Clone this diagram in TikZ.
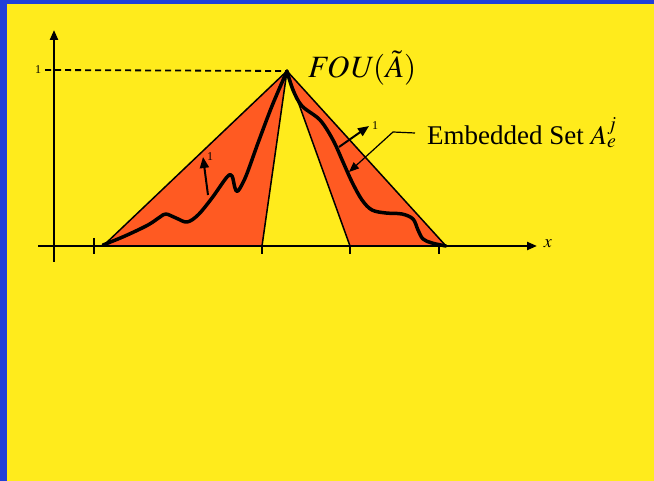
\documentclass[tikz,border=0pt]{standalone}
\usepackage{mathptmx}
\usepackage{fontspec}
\setmainfont{Liberation Serif}
\usetikzlibrary{arrows.meta,calc}
\definecolor{slideblue}{HTML}{2040D8}
\definecolor{slideyellow}{HTML}{FFEB1C}
\definecolor{fouorange}{HTML}{FF5A22}

\begin{document}
\begin{tikzpicture}[x=1pt, y=-1pt,
  axis/.style={line width=2.2pt, -{Triangle[length=10pt,width=8pt]}},
  edge/.style={line width=1.5pt, line join=round},
  tickmark/.style={line width=2pt},
  embed/.style={line width=3.5pt, line cap=round, line join=round},
  normal/.style={line width=2pt, -{Triangle[length=11pt,width=9pt]}},
  lead/.style={line width=1.2pt, -{Triangle[length=10pt,width=8pt]}},
  lbl/.style={inner sep=0pt, font=\fontsize{27}{30}\selectfont},
  small/.style={inner sep=0pt, font=\fontsize{12}{12}\selectfont}]

  \useasboundingbox (0,0) rectangle (654,481);
  \fill[slideblue] (0,0) rectangle (654,481);
  \fill[slideyellow] (7,4) rectangle (654,481);

  \coordinate (apex) at (287,71);
  \coordinate (la) at (103,246);
  \coordinate (lb) at (262,246);
  \coordinate (ra) at (350,246);
  \coordinate (rb) at (446,246);
  \coordinate (xs) at (38,246);
  \coordinate (xe) at (537,246);
  \coordinate (ys) at (54,262);
  \coordinate (ye) at (54,30);
  \coordinate (hit) at (349,172);

  \filldraw[fill=fouorange, edge] (la) -- (apex) -- (lb) -- cycle;
  \filldraw[fill=fouorange, edge] (ra) -- (apex) -- (rb) -- cycle;

  \draw[axis] (xs) -- (xe);
  \draw[axis] (ys) -- (ye);
  \draw[tickmark] (94,238) -- (94,254);
  \foreach \t in {262,350,439}
    \draw[tickmark] (\t,246) -- (\t,254);

  \node[small] (one) at (38,70) {1};
  \draw[line width=1.8pt, dash pattern=on 6pt off 4pt] (one.east) ++(4,0) -- (apex);

  \draw[embed] plot[smooth, tension=0.55] coordinates {(103,245) (125,236) (148,225) (160,217) (166,214) (176,218) (187,222) (198,215) (212,198) (227,177) (232,176) (235,188) (238,191) (246,176) (258,143) (272,106) (287,71)};
  \draw[embed] plot[smooth, tension=0.55] coordinates {(287,71) (293,90) (302,106) (320,120) (333,140) (343,162) (352,182) (362,200) (372,210) (386,213) (402,214) (413,219) (418,230) (423,239) (432,243) (446,246)};

  \draw[normal] (208,195) -- (203,157) node[small, right=3pt] (n1) {1};
  \draw[normal] (339,147) -- (369,126) node[small, right=2pt] (n2) {1};

  \node[lbl, anchor=west] (emb) at (427,133) {Embedded Set $A_e^j$};
  \draw[lead] ([xshift=-12pt]emb.west) -- (393,132) -- (hit);

  \node[lbl, font=\fontsize{31}{33}\selectfont, anchor=west] (fou) at (308,68) {$\mathit{FOU}(\tilde{A})$};
  \node[inner sep=0pt, font=\fontsize{18}{18}\selectfont] (xl) at (548,244) {$x$};
\end{tikzpicture}
\end{document}
